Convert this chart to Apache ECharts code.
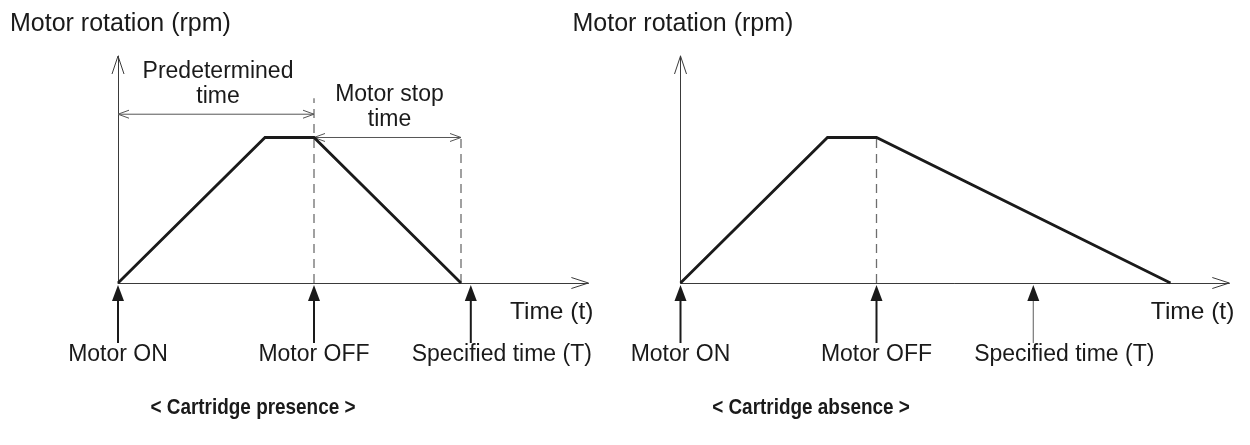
<!DOCTYPE html>
<html>
<head>
<meta charset="utf-8">
<script src="https://cdn.jsdelivr.net/npm/echarts@6/dist/echarts.min.js"></script>
<style>
  html, body { margin: 0; padding: 0; background: #fff; }
  #chart { width: 1250px; height: 445px; }
</style>
</head>
<body>
<div id="chart"></div>
<script>
// Motor speed profiles (relative time units, relative rpm)
const presenceTime = [0, 3, 4, 7];
const presenceRpm = [0, 1, 1, 0];
const absenceTime = [0, 3, 4, 10];
const absenceRpm = [0, 1, 1, 0];

// Event markers below the time axis
const eventNames = ['Motor ON', 'Motor OFF', 'Specified time (T)'];
const presenceEvents = [0, 4, 7.2];
const absenceEvents = [0, 4, 7.2];

// Dashed guide lines: time position and top rpm
const presenceGuideTime = [4, 7];
const presenceGuideTop = [1.27, 1];
const absenceGuideTime = [4];
const absenceGuideTop = [1];

// Dimensioned intervals on the "presence" diagram
const spanStart = [0, 4];
const spanEnd = [4, 7];
const spanLevel = [1.16, 1];
const spanText = ['Predetermined\ntime', 'Motor stop\ntime'];

const yAxisName = 'Motor rotation (rpm)';
const xAxisName = 'Time (t)';
const captions = ['< Cartridge presence >', '< Cartridge absence >'];
const timeMax = [9.6, 11.2];
const rpmMax = 1.56;

// ---- styling ----
const FAMILY = '"Liberation Sans", Arial, Helvetica, sans-serif';
const FONT = '23px ' + FAMILY;
const TIME_FONT = '24.5px ' + FAMILY;
const TITLE_FONT = '25px ' + FAMILY;
const CAPTION_FONT = 'bold 22px ' + FAMILY;
const INK = '#1a1a1a';
const AXIS = '#3a3a3a';
const GUIDE = '#6e6e6e';
const DIM = '#555';
const eventLabelDx = [0, 0, 31];

function text(x, y, str, font, align, vAlign, extra) {
  return {
    type: 'text', x: x, y: y, silent: true,
    style: Object.assign({
      text: str, font: font, fill: INK,
      align: align, verticalAlign: vAlign,
      textAlign: align, textVerticalAlign: vAlign
    }, extra || {})
  };
}

function line(p1, p2, stroke, width, dash) {
  return {
    type: 'line', silent: true,
    shape: { x1: p1[0], y1: p1[1], x2: p2[0], y2: p2[1] },
    style: { stroke: stroke, lineWidth: width, lineDash: dash || null }
  };
}

function chevron(points, stroke, width) {
  return {
    type: 'polyline', silent: true,
    shape: { points: points },
    style: { fill: null, stroke: stroke, lineWidth: width }
  };
}

// Draws axis heads, axis names, event arrows, guides and spans for one diagram
function makeAnnotations(cfg) {
  return function (params, api) {
    const out = [];
    const yTip = api.coord([0, rpmMax]);
    const xTip = api.coord([cfg.xMax, 0]);

    // open arrow heads on axes
    out.push(chevron([[yTip[0] - 6, yTip[1] + 18], yTip, [yTip[0] + 6, yTip[1] + 18]], AXIS, 1));
    out.push(chevron([[xTip[0] - 17, xTip[1] - 5.5], xTip, [xTip[0] - 17, xTip[1] + 5.5]], AXIS, 1));

    // axis names
    out.push(text(yTip[0] - 108, yTip[1] - 32, yAxisName, TITLE_FONT, 'left', 'middle'));
    out.push(text(xTip[0] + 5, xTip[1] + 29, xAxisName, TIME_FONT, 'right', 'middle'));

    // dashed guides
    cfg.guideTime.forEach(function (t, i) {
      const a = api.coord([t, 0]);
      const b = api.coord([t, cfg.guideTop[i]]);
      out.push(line(a, b, GUIDE, 1.3, [9, 6]));
    });

    // event arrows with labels
    cfg.events.forEach(function (t, i) {
      const p = api.coord([t, 0]);
      const faint = cfg.faintLast && i === cfg.events.length - 1;
      out.push(line([p[0], p[1] + 14], [p[0], p[1] + 60], faint ? '#777' : INK, faint ? 1.2 : 2));
      out.push({
        type: 'polygon', silent: true,
        shape: { points: [[p[0], p[1] + 2], [p[0] - 6, p[1] + 18], [p[0] + 6, p[1] + 18]] },
        style: { fill: INK }
      });
      out.push(text(p[0] + eventLabelDx[i], p[1] + 72, eventNames[i], FONT, 'center', 'middle'));
    });

    // double-headed dimension arrows
    if (cfg.spans) {
      spanStart.forEach(function (s, i) {
        const a = api.coord([s, spanLevel[i]]);
        const b = api.coord([spanEnd[i], spanLevel[i]]);
        out.push(line(a, b, DIM, 1));
        out.push(chevron([[a[0] + 11, a[1] - 4], a, [a[0] + 11, a[1] + 4]], DIM, 1));
        out.push(chevron([[b[0] - 11, b[1] - 4], b, [b[0] - 11, b[1] + 4]], DIM, 1));
        out.push(text((a[0] + b[0]) / 2 + 2, a[1] - 30, spanText[i], FONT, 'center', 'middle', { lineHeight: 25 }));
      });
    }
    return { type: 'group', children: out };
  };
}

function zip(xs, ys) { return xs.map(function (x, i) { return [x, ys[i]]; }); }

const UNIT = 49; // px per time unit
const grids = [
  { left: 118, top: 56, width: timeMax[0] * UNIT, height: 227 },
  { left: 680.5, top: 56, width: timeMax[1] * UNIT, height: 227 }
];

function xAxisOf(i) {
  return {
    type: 'value', gridIndex: i, min: 0, max: timeMax[i],
    axisLine: { show: true, lineStyle: { color: AXIS, width: 1 } },
    axisTick: { show: false }, axisLabel: { show: false }, splitLine: { show: false }
  };
}
function yAxisOf(i) {
  return {
    type: 'value', gridIndex: i, min: 0, max: rpmMax,
    axisLine: { show: true, lineStyle: { color: AXIS, width: 1 } },
    axisTick: { show: false }, axisLabel: { show: false }, splitLine: { show: false }
  };
}

function caption(x, str) {
  return {
    type: 'text', x: x, y: 408, scaleX: 0.86, silent: true,
    style: { text: str, font: CAPTION_FONT, fill: INK, align: 'center', verticalAlign: 'middle' }
  };
}

const chart = echarts.init(document.getElementById('chart'), null, { renderer: 'canvas' });
chart.setOption({
  animation: false,
  backgroundColor: '#fff',
  grid: grids,
  xAxis: [xAxisOf(0), xAxisOf(1)],
  yAxis: [yAxisOf(0), yAxisOf(1)],
  series: [
    {
      type: 'line', xAxisIndex: 0, yAxisIndex: 0, z: 5,
      data: zip(presenceTime, presenceRpm), symbol: 'none',
      lineStyle: { color: INK, width: 2.8, join: 'miter' }
    },
    {
      type: 'line', xAxisIndex: 1, yAxisIndex: 1, z: 5,
      data: zip(absenceTime, absenceRpm), symbol: 'none',
      lineStyle: { color: INK, width: 2.8, join: 'miter' }
    },
    {
      type: 'custom', xAxisIndex: 0, yAxisIndex: 0, z: 3, clip: false,
      data: [[0, 0]],
      renderItem: makeAnnotations({
        xMax: timeMax[0], events: presenceEvents,
        guideTime: presenceGuideTime, guideTop: presenceGuideTop, spans: true
      })
    },
    {
      type: 'custom', xAxisIndex: 1, yAxisIndex: 1, z: 3, clip: false,
      data: [[0, 0]],
      renderItem: makeAnnotations({
        xMax: timeMax[1], events: absenceEvents,
        guideTime: absenceGuideTime, guideTop: absenceGuideTop, spans: false, faintLast: true
      })
    }
  ],
  graphic: [caption(253, captions[0]), caption(811, captions[1])]
});
</script>
</body>
</html>
